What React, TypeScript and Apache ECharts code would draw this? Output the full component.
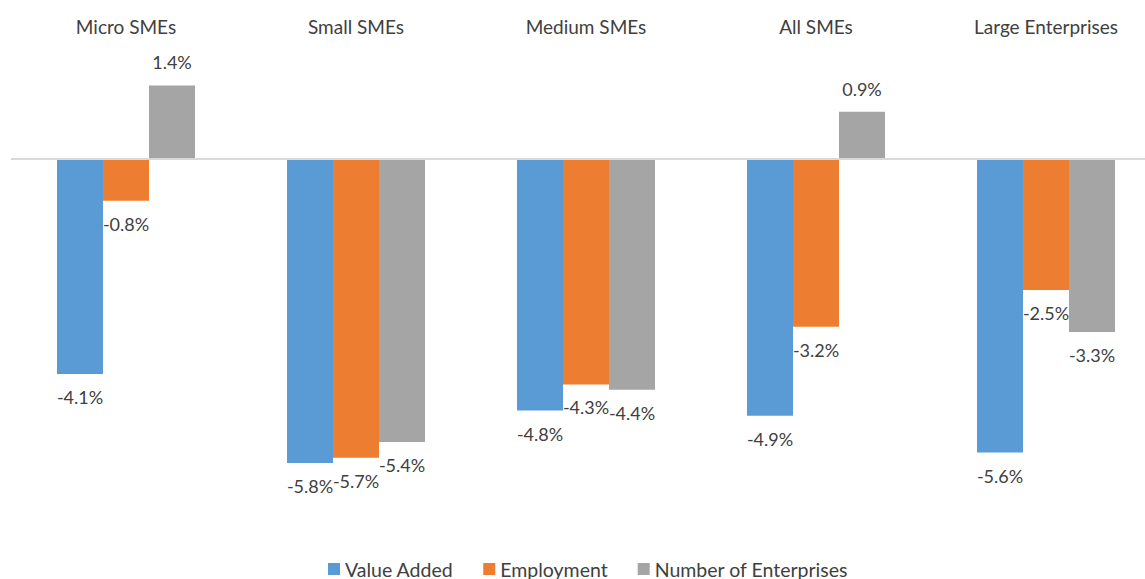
import React, { useEffect, useRef } from "react";
import * as echarts from "echarts";

const categories = ["Micro SMEs", "Small SMEs", "Medium SMEs", "All SMEs", "Large Enterprises"];
const valueAdded = [-4.1, -5.8, -4.8, -4.9, -5.6];
const employment = [-0.8, -5.7, -4.3, -3.2, -2.5];
const enterprises = [1.4, -5.4, -4.4, 0.9, -3.3];
const seriesNames = ["Value Added", "Employment", "Number of Enterprises"];
const colors = ["#5B9BD5", "#ED7D31", "#A5A5A5"];

const FONT = "Lato, 'Liberation Sans', sans-serif";
const TEXT = "#404040";

function toData(vals: number[]) {
  return vals.map((v) => ({
    value: v,
    label: { position: v < 0 ? "bottom" : "top" },
  }));
}

export default function App() {
  const ref = useRef<HTMLDivElement>(null);
  useEffect(() => {
    if (!ref.current) return;
    const chart = echarts.init(ref.current, undefined, { renderer: "svg" });
    const all = [valueAdded, employment, enterprises];
    chart.setOption({
      animation: false,
      textStyle: { fontFamily: FONT, color: TEXT },
      grid: { left: 11, top: 54, width: 1150, height: 472 },
      legend: {
        data: seriesNames,
        left: 323,
        top: 554,
        icon: "rect",
        itemWidth: 12,
        itemHeight: 12,
        itemGap: 30,
        textStyle: { fontFamily: FONT, fontSize: 19.5, color: TEXT },
      },
      xAxis: {
        type: "category",
        data: categories,
        position: "top",
        axisLine: { show: false, onZero: false },
        axisTick: { show: false },
        axisLabel: { fontFamily: FONT, fontSize: 19, color: TEXT, margin: 18 },
      },
      yAxis: {
        type: "value",
        min: -7,
        max: 2,
        show: false,
        splitLine: { show: false },
      },
      series: all.map((vals, i) => ({
        name: seriesNames[i],
        type: "bar",
        data: toData(vals),
        barWidth: 46,
        barGap: "0%",
        itemStyle: { color: colors[i] },
        label: {
          show: true,
          distance: 14,
          fontFamily: FONT,
          fontSize: 18,
          color: TEXT,
          formatter: (p: any) => p.value.toFixed(1) + "%",
        },
        ...(i === 0
          ? {
              markLine: {
                silent: true,
                symbol: "none",
                label: { show: false },
                lineStyle: { color: "#D9D9D9", width: 2, type: "solid" },
                data: [{ yAxis: 0 }],
              },
            }
          : {}),
      })),
    });
    return () => chart.dispose();
  }, []);
  return (
    <div
      ref={ref}
      style={{ position: "fixed", left: 0, top: 0, width: 1175, height: 579, background: "#fff" }}
    />
  );
}
